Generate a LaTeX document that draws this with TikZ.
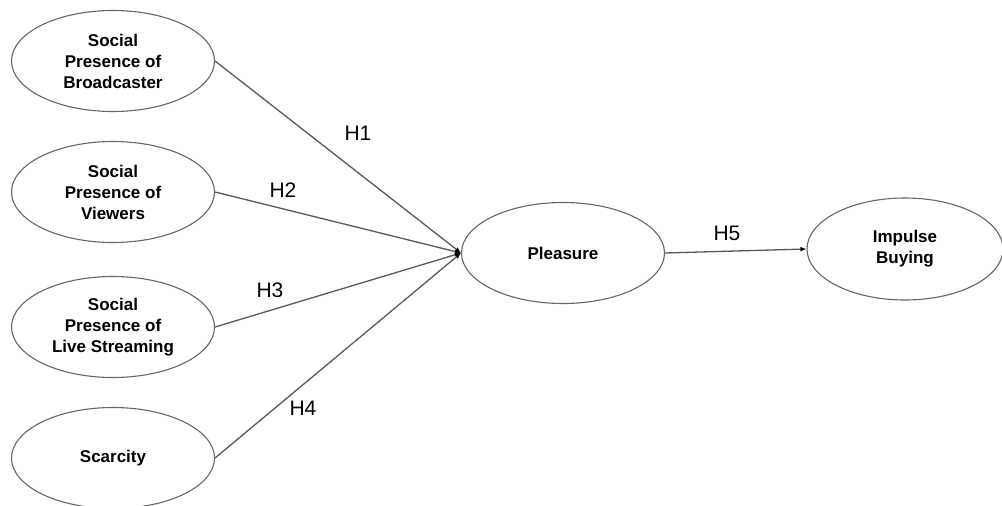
\documentclass[tikz,border=0pt]{standalone}
\usepackage{fontspec}
\setmainfont{Liberation Sans}
\usetikzlibrary{shapes.geometric,arrows.meta}
\begin{document}
\begin{tikzpicture}[x=1pt,y=-1pt,
  construct/.style={ellipse,draw=black!60,line width=1.1pt,minimum width=203pt,minimum height=101pt,inner sep=0pt,
    align=center,font=\fontsize{17}{21}\selectfont\bfseries,text=black},
  path/.style={draw=black!65,line width=1.3pt},
  hlabel/.style={font=\fontsize{21}{24}\selectfont,text=black}]
\useasboundingbox (0,0) rectangle (1002,506);
\node[construct] (e1) at (113,61) {Social\\Presence of\\Broadcaster};
\node[construct] (e2) at (113,192) {Social\\Presence of\\Viewers};
\node[construct] (e3) at (113,327) {Social\\Presence of\\Live Streaming};
\node[construct] (e4) at (113,458) {Scarcity};
\node[construct] (pl) at (563,253) {Pleasure};
\node[construct,minimum width=196pt,minimum height=102pt] (ib) at (905,249) {Impulse\\Buying};
\coordinate (J) at (461,253);
\foreach \n in {e1,e2,e3,e4}
  \draw[path,-{Latex[length=6pt,width=5pt,black]}] (\n.east) -- (J);
\draw[path,-{Latex[length=6pt,width=5pt,black]}] (pl.east) -- (ib.west);
\node[hlabel] (h1) at (358,133) {H1};
\node[hlabel] (h2) at (283,190) {H2};
\node[hlabel] (h3) at (270,290) {H3};
\node[hlabel] (h4) at (303,408) {H4};
\node[hlabel] (h5) at (727,233) {H5};
\end{tikzpicture}
\end{document}
